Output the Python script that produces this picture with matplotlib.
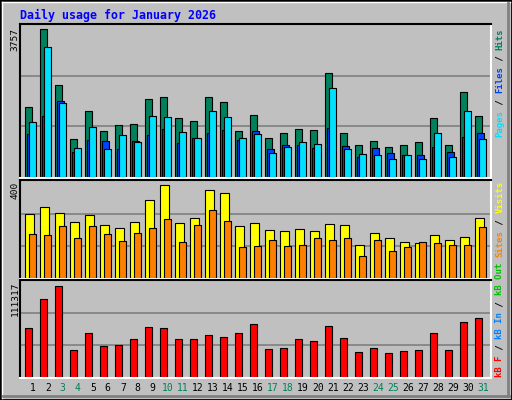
import matplotlib
matplotlib.use("Agg")
import matplotlib.pyplot as plt
from matplotlib.patches import Rectangle
from matplotlib.lines import Line2D
import numpy as np

days = list(range(1, 32))
weekend = [3, 4, 10, 11, 17, 18, 24, 25, 31]

hits = [1725, 3666, 2273, 929, 1626, 1128, 1277, 1302, 1924, 1974, 1451, 1377, 1974, 1850, 1128, 1526,
        954, 1078, 1178, 1153, 2571, 1078, 780, 879, 730, 780, 854, 1451, 780, 2098, 1501]
files = [1053, 1501, 1874, 605, 904, 879, 680, 879, 1028, 1178, 829, 954, 1078, 1153, 904, 1128,
         680, 780, 780, 705, 1203, 755, 481, 705, 581, 531, 531, 730, 605, 979, 1078]
pages = [1352, 3218, 1825, 705, 1228, 680, 1028, 854, 1501, 1476, 1103, 954, 1626, 1476, 954, 1053,
         581, 730, 854, 805, 2198, 680, 556, 531, 431, 531, 431, 1078, 481, 1626, 929]
visits = [264, 294, 269, 231, 260, 218, 206, 231, 323, 386, 227, 248, 365, 352, 214, 227,
          197, 193, 201, 193, 222, 218, 138, 185, 164, 147, 143, 176, 159, 168, 248]
sites = [180, 176, 214, 164, 214, 180, 151, 185, 206, 243, 147, 218, 281, 235, 126, 130,
         155, 130, 138, 164, 159, 164, 92, 155, 113, 126, 147, 143, 138, 138, 210]
kbytes = [57602, 91462, 106641, 30747, 51764, 35417, 36585, 43590, 58769, 57602, 43590, 43590,
          49428, 47093, 51764, 62272, 31914, 33082, 43590, 41255, 59937, 45926, 28412, 33082,
          27244, 29579, 30747, 51764, 30747, 64607, 69278]

max_hits, max_visits, max_kb = 3757, 400, 111317

W, H = 512, 400
BG = "#C0C0C0"
MONO = "DejaVu Sans Mono"
fig = plt.figure(figsize=(W / 100, H / 100), dpi=100, facecolor=BG)

# outer frame with bevel
fig.add_artist(Rectangle((0, 0), 1, 1, transform=fig.transFigure, fill=False, ec="black", lw=2))
fig.add_artist(Line2D([2 / W, 2 / W], [2 / H, 1 - 2 / H], transform=fig.transFigure, color="white", lw=1))
fig.add_artist(Line2D([2 / W, 1 - 2 / W], [1 - 2 / H, 1 - 2 / H], transform=fig.transFigure, color="white", lw=1))
fig.add_artist(Line2D([1 - 4 / W, 1 - 4 / W], [4 / H, 1 - 3 / H], transform=fig.transFigure, color="#808080", lw=2))
fig.add_artist(Line2D([3 / W, 1 - 3 / W], [4 / H, 4 / H], transform=fig.transFigure, color="#808080", lw=2))

x = np.array(days, dtype=float)
bw = 7 / 15
XMIN = 0.247


def panel(top, bottom, vmax):
    ax = fig.add_axes([20 / W, 1 - bottom / H, 471 / W, (bottom - top) / H])
    ax.set_facecolor(BG)
    ax.set_xlim(XMIN, XMIN + 471 / 15)
    h = bottom - top
    per = vmax / (h - 3.0)
    ax.set_ylim(-1.3 * per, vmax + 1.7 * per)
    for f in (1 / 3, 2 / 3):
        ax.axhline(vmax * f, color="#808080", lw=1.2, zorder=0)
    ax.set_xticks([])
    ax.set_yticks([])
    for s in ("top", "left"):
        ax.spines[s].set_color("black")
    for s in ("bottom", "right"):
        ax.spines[s].set_color("white")
    for s in ax.spines.values():
        s.set_linewidth(1.5)
    return ax


ax1 = panel(24, 178, max_hits)
ax1.bar(x - 0.4, hits, bw, align="edge", color="#00805C", ec="black", lw=0.8)
ax1.bar(x - 0.267, files, bw, align="edge", color="#0040FF", ec="black", lw=0.8)
ax1.bar(x - 0.133, pages, bw, align="edge", color="#00E0FF", ec="black", lw=0.8)

ax2 = panel(180, 279, max_visits)
ax2.bar(x - 0.4, visits, 8.4 / 15, align="edge", color="#FFFF00", ec="black", lw=0.8)
ax2.bar(x - 0.133, sites, bw, align="edge", color="#FF8000", ec="black", lw=0.8)

ax3 = panel(280, 378, max_kb)
ax3.bar(x - 0.4, kbytes, bw, align="edge", color="#FF0000", ec="black", lw=0.8)


def px(xp, yp):
    return xp / W, 1 - yp / H


fig.text(*px(20, 15), "Daily usage for January 2026", color="#0000FF", family=MONO,
         fontsize=8.4, weight="bold", va="center", ha="left")

for lbl, ytop in (("3757", 28), ("400", 182), ("111317", 282)):
    fig.text(*px(15, ytop), lbl, rotation=90, rotation_mode="anchor", ha="right", va="center",
             family=MONO, fontsize=6.8, color="black")

pitch = 5.44


def side_label(parts, ybottom):
    y = ybottom
    for txt, col in parts:
        fig.text(*px(500, y), txt, rotation=90, rotation_mode="anchor", ha="left", va="center",
                 family=MONO, fontsize=6.5, weight="bold", color=col)
        y -= pitch * len(txt)


side_label([("Pages", "#00E0FF"), (" / ", "black"), ("Files", "#0040FF"), (" / ", "black"),
            ("Hits", "#00805C")], 137)
side_label([("Sites", "#FF8000"), (" / ", "black"), ("Visits", "#FFFF00")], 257)
side_label([("kB F", "#FF0000"), (" / ", "black"), ("kB In", "#0080FF"), (" / ", "black"),
            ("kB Out", "#00C000")], 377)

for d in days:
    xp = 20 + (d + 0.1 - XMIN) * 15
    fig.text(*px(xp, 388), str(d), ha="center", va="center", family=MONO, fontsize=7,
             color="#00805C" if d in weekend else "black")

fig.savefig("out.png", dpi=100, facecolor=BG)
